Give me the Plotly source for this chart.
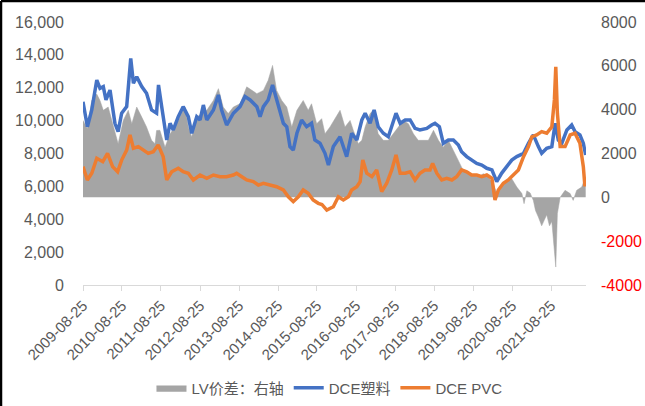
import plotly.graph_objects as go

# ---------------- data ----------------
lv_dates = ["2009-08-25","2009-10-05","2009-11-15","2010-01-01","2010-01-31","2010-03-03","2010-04-18",
            "2010-06-04","2010-07-20","2010-09-06","2010-10-23","2010-11-25","2011-01-10","2011-02-26",
            "2011-04-12","2011-05-29","2011-06-30","2011-07-15","2011-08-15","2011-10-02","2011-11-18",
            "2012-01-03","2012-02-20","2012-04-06","2012-05-07","2012-06-08","2012-07-25","2012-09-10",
            "2012-10-27","2012-12-28","2013-02-13","2013-03-30","2013-05-16","2013-07-03","2013-09-03",
            "2013-11-05","2013-12-22","2014-02-08","2014-04-10","2014-05-25","2014-07-05","2014-08-12",
            "2014-09-29","2014-11-15","2015-01-01","2015-02-18","2015-04-18","2015-06-04","2015-07-05",
            "2015-08-22","2015-10-08","2015-11-08","2015-12-25","2016-02-26","2016-03-28","2016-05-13",
            "2016-06-30","2016-07-30","2016-09-15","2016-10-18","2016-11-18","2017-01-03","2017-02-03",
            "2017-03-20","2017-05-07","2017-06-23","2017-08-10","2017-09-25","2017-11-10","2017-12-28",
            "2018-02-13","2018-03-30","2018-05-16","2018-07-03","2018-08-20","2018-10-05","2018-11-20",
            "2019-01-06","2019-02-22","2019-04-10","2019-05-25","2019-07-10","2019-08-28","2019-10-14",
            "2019-11-30","2020-01-15","2020-03-03","2020-04-03","2020-05-20","2020-07-05","2020-08-22",
            "2020-10-08","2020-11-25","2020-12-15","2021-01-10","2021-02-10","2021-03-12","2021-04-01",
            "2021-04-28","2021-05-29","2021-07-15","2021-08-10","2021-09-01","2021-09-25","2021-10-08",
            "2021-10-23","2021-11-18","2022-01-03","2022-02-20","2022-03-20","2022-04-22","2022-06-08",
            "2022-07-15"]
lv_spread = [3510,3140,4420,4710,4420,3970,4120,
             3210,2450,3510,3970,3360,4120,3660,
             3210,2600,2450,3050,3060,2290,2900,
             3210,3660,4120,3210,2750,3660,3820,
             3970,4420,4960,4120,3820,4120,4270,
             5040,4880,4730,4880,5340,6020,4880,
             4420,4120,3210,3970,4420,3970,4270,
             3360,3590,2900,3210,3740,3970,3210,
             3510,3060,2450,2600,3210,3820,3970,
             2900,2600,2600,2900,3210,3510,3360,
             2900,2600,2600,2600,3060,2600,2290,
             2600,2140,1690,1230,1080,1000,930,
             1080,930,620,170,550,780,850,
             470,170,-290,300,200,-140,-600,
             -900,-1300,-800,-1300,-1100,-2270,-3180,
             -740,0,320,170,-140,320,470,
             930]

pe_dates = ["2009-08-25","2009-10-05","2009-11-15","2010-01-01","2010-01-31","2010-03-03","2010-03-28",
            "2010-05-05","2010-06-20","2010-07-20","2010-08-22","2010-10-08","2010-11-15","2010-12-10",
            "2011-01-10","2011-02-26","2011-04-12","2011-05-29","2011-07-15","2011-08-02","2011-09-01",
            "2011-10-18","2011-11-18","2011-12-18","2012-02-03","2012-03-20","2012-05-07","2012-06-08",
            "2012-07-25","2012-08-25","2012-09-25","2012-10-27","2012-12-28","2013-02-13","2013-03-15",
            "2013-05-01","2013-07-03","2013-09-03","2013-10-20","2013-12-07","2014-02-08","2014-03-10",
            "2014-04-10","2014-05-25","2014-07-05","2014-08-12","2014-10-14","2014-11-15","2014-12-15",
            "2015-01-15","2015-02-18","2015-04-03","2015-05-20","2015-07-05","2015-08-05","2015-09-22",
            "2015-11-08","2015-12-10","2016-01-25","2016-03-28","2016-05-29","2016-07-15","2016-09-01",
            "2016-10-18","2016-11-18","2017-01-03","2017-02-10","2017-03-20","2017-05-07","2017-06-23",
            "2017-07-25","2017-09-03","2017-10-12","2017-11-28","2018-01-13","2018-02-28","2018-04-15",
            "2018-06-18","2018-08-03","2018-09-03","2018-10-14","2018-11-20","2019-01-06","2019-02-22",
            "2019-04-10","2019-05-10","2019-06-27","2019-08-12","2019-09-29","2019-11-15","2020-01-01",
            "2020-02-18","2020-04-03","2020-05-20","2020-07-05","2020-08-22","2020-10-08","2020-12-10",
            "2021-01-25","2021-03-12","2021-04-28","2021-05-29","2021-07-15","2021-09-01","2021-10-02",
            "2021-11-01","2021-12-03","2022-01-20","2022-03-06","2022-04-06","2022-05-22","2022-06-23",
            "2022-07-15"]
pe_price = [11150,9630,10650,12470,11970,12070,11260,
            11860,9840,9330,10450,10850,13790,12270,
            12670,12070,11660,10650,10450,12170,10850,
            8820,9840,9430,10240,10850,10240,9230,
            10240,10040,10950,10040,10650,11560,10650,
            9730,10450,10850,11460,11260,10850,10240,
            10850,11260,12170,11260,9840,9630,8420,
            8210,9230,10040,9630,9840,8820,8620,
            8010,7300,8420,9020,7810,9230,8820,
            10040,10450,9840,10650,9630,9230,9020,
            9630,10450,9840,10040,10040,9530,9430,
            9530,9730,9840,9630,8620,8820,8820,
            8520,8110,7810,7600,7400,7300,7100,
            7000,6290,6810,7200,7600,7810,8010,
            8620,9130,8420,8010,8320,8420,9840,
            8820,8620,9430,9730,9330,9130,8620,
            7910]

pvc_dates = ["2009-08-25","2009-10-05","2009-11-15","2010-01-01","2010-02-26","2010-04-12","2010-05-29",
             "2010-07-15","2010-08-22","2010-10-08","2010-11-08","2010-12-10","2011-01-25","2011-03-12",
             "2011-04-28","2011-06-14","2011-07-30","2011-09-15","2011-10-18","2011-12-03","2012-02-03",
             "2012-03-20","2012-05-07","2012-06-23","2012-08-25","2012-10-27","2012-12-28","2013-02-28",
             "2013-05-01","2013-07-03","2013-08-03","2013-09-20","2013-11-05","2014-01-06","2014-02-22",
             "2014-04-10","2014-06-10","2014-08-12","2014-10-14","2014-11-30","2015-01-15","2015-03-03",
             "2015-04-18","2015-06-04","2015-07-20","2015-09-06","2015-10-10","2015-11-25","2016-01-25",
             "2016-03-12","2016-04-28","2016-06-14","2016-07-15","2016-09-01","2016-10-02","2016-10-27",
             "2016-12-03","2017-01-20","2017-03-06","2017-04-22","2017-06-08","2017-07-25","2017-09-03",
             "2017-10-12","2017-11-28","2018-01-13","2018-02-28","2018-04-15","2018-06-01","2018-07-18",
             "2018-08-12","2018-09-20","2018-11-05","2018-12-22","2019-02-08","2019-03-25","2019-05-10",
             "2019-06-27","2019-08-12","2019-09-29","2019-11-15","2020-01-01","2020-02-18","2020-03-18",
             "2020-04-18","2020-06-04","2020-07-20","2020-09-06","2020-10-23","2020-12-10","2021-01-25",
             "2021-02-26","2021-04-12","2021-05-29","2021-07-15","2021-09-01","2021-09-25","2021-10-08",
             "2021-10-23","2021-11-18","2022-01-03","2022-02-20","2022-04-06","2022-05-22","2022-06-23",
             "2022-07-08","2022-07-15"]
pvc_price = [7200,6390,6800,7710,7500,8010,7200,
             6890,7600,8210,9130,8320,8420,8210,
             8010,8110,8520,7810,6390,6890,7100,
             6890,6800,6390,6690,6490,6690,6590,
             6590,6690,6800,6590,6390,6290,6080,
             6190,6080,5980,5780,5370,5070,5370,
             5780,5580,5170,4970,4900,4560,4760,
             5370,5170,5370,5780,5980,6290,7600,
             6800,6590,7000,5680,6190,7000,7910,
             6800,6800,6890,6390,6800,7000,7000,
             7400,6800,6390,6490,6390,6590,7000,
             6890,6690,6690,6590,6690,6490,5170,
             5780,6190,6390,6690,7000,7810,8420,
             9020,9130,9330,9230,9630,11260,13280,
             10450,8420,8420,9130,9230,8620,7200,
             6000,6400]

x_tick_labels = ["2009-08-25","2010-08-25","2011-08-25","2012-08-25","2013-08-25","2014-08-25",
                 "2015-08-25","2016-08-25","2017-08-25","2018-08-25","2019-08-25","2020-08-25",
                 "2021-08-25"]
y_left_ticks = [0, 2000, 4000, 6000, 8000, 10000, 12000, 14000, 16000]
y_right_ticks = [-4000, -2000, 0, 2000, 4000, 6000, 8000]

series_names = ["LV价差：右轴", "DCE塑料", "DCE PVC"]

# ---------------- figure ----------------
GRAY_TXT = "#595959"
FONT = "Liberation Sans, Noto Sans CJK SC, sans-serif"

fig = go.Figure()
# area on the base axis (drawn underneath), price lines on the overlaying axis (drawn on top)
fig.add_trace(go.Scatter(
    x=lv_dates, y=lv_spread, name=series_names[0], yaxis="y",
    mode="lines", fill="tozeroy", fillcolor="#A5A5A5",
    line=dict(color="#A5A5A5", width=0.5)))
fig.add_trace(go.Scatter(
    x=pe_dates, y=pe_price, name=series_names[1], yaxis="y2", mode="lines",
    line=dict(color="#4472C4", width=3.5)))
fig.add_trace(go.Scatter(
    x=pvc_dates, y=pvc_price, name=series_names[2], yaxis="y2", mode="lines",
    line=dict(color="#ED7D31", width=3.5)))

right_text = []
for v in y_right_ticks:
    if v < 0:
        right_text.append(f"<span style='color:#FF0000'>{v}</span>")
    else:
        right_text.append(str(v))

fig.update_layout(
    width=645, height=406,
    margin=dict(l=83, r=59, t=22, b=121, autoexpand=False),
    paper_bgcolor="white", plot_bgcolor="white",
    font=dict(family=FONT, size=15, color=GRAY_TXT),
    showlegend=True,
    legend=dict(orientation="h", x=0.49, xanchor="center", y=-0.392, yanchor="middle",
                font=dict(size=15, color=GRAY_TXT), traceorder="normal",
                itemwidth=30, bgcolor="rgba(0,0,0,0)"),
    xaxis=dict(
        type="date", range=["2009-08-25", "2022-07-18"], automargin=False,
        tickvals=x_tick_labels, ticktext=x_tick_labels, tickangle=-45,
        showgrid=False, zeroline=False,
        showline=True, linecolor="#D9D9D9", linewidth=1,
        ticks="outside", ticklen=5, tickcolor="#D9D9D9",
        tickfont=dict(size=15, color=GRAY_TXT)),
    yaxis=dict(
        side="right", range=[-4000, 8000], automargin=False,
        tickvals=y_right_ticks, ticktext=right_text,
        showgrid=False, zeroline=False, showline=False,
        ticks="", ticklabelstandoff=14,
        tickfont=dict(size=16, color=GRAY_TXT)),
    yaxis2=dict(
        overlaying="y", side="left", range=[0, 16000], automargin=False,
        tickvals=y_left_ticks, tickformat=",",
        showgrid=False, zeroline=False, showline=False,
        ticks="", ticklabelstandoff=18,
        tickfont=dict(size=16, color=GRAY_TXT)),
)

# outer frame visible on the left and top of the reference picture
fig.add_shape(type="line", xref="paper", yref="paper",
              x0=-82/503, x1=-82/503, y0=-0.47, y1=284/263,
              line=dict(color="black", width=2.5))
fig.add_shape(type="line", xref="paper", yref="paper",
              x0=-82/503, x1=1.12, y0=284/263, y1=284/263,
              line=dict(color="black", width=2.5))

fig.write_html("out.html",
               config={"displayModeBar": False},
               post_script="document.body.style.margin='0';document.body.style.padding='0';")
